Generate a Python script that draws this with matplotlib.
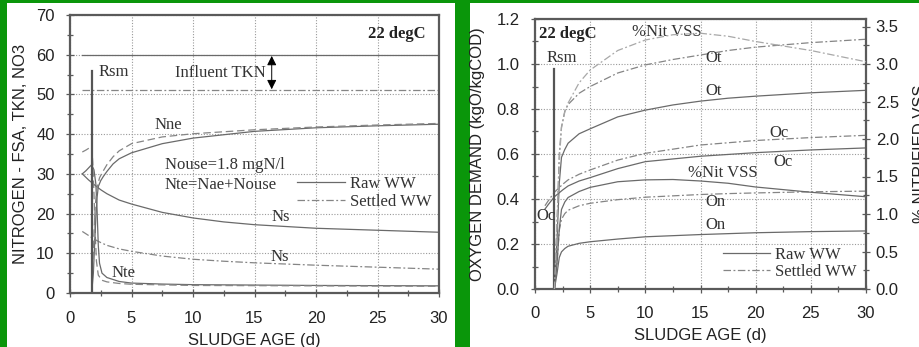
import matplotlib
matplotlib.use("Agg")
import matplotlib.pyplot as plt
from matplotlib.lines import Line2D
from matplotlib.patches import Rectangle
from matplotlib.ticker import MultipleLocator

# ---- left panel: nitrogen vs sludge age (22 degC) ----
rsm = 1.76
rsm_top_n = 56.0
tkn_x = [1.0, 30.0]
tkn_raw = [60.0, 60.0]
tkn_settled = [51.0, 51.0]

ns_x = [1.0, 1.5, 2.0, 2.5, 3.0, 4.0, 5.0, 7.5, 10, 12.5, 15, 20, 25, 30]
ns_raw = [30.0, 28.5, 27.2, 26.0, 25.0, 23.4, 22.4, 20.3, 18.9, 17.9, 17.2, 16.3, 15.8, 15.3]
ns_settled = [15.5, 14.5, 13.5, 12.7, 12.0, 11.1, 10.5, 9.3, 8.5, 8.0, 7.6, 7.0, 6.5, 6.0]

nte_raw_x = [1.0, 1.3, 1.76, 1.95, 2.1, 2.2, 2.3, 2.4, 2.6, 3.0, 4.0, 5.0, 7.5, 10, 15, 20, 25, 30]
nte_raw = [30.0, 30.8, 32.3, 31.0, 27.5, 21.0, 12.0, 7.5, 5.0, 3.9, 2.9, 2.5, 2.25, 2.1, 2.0, 1.9, 1.85, 1.8]
nte_set_x = [1.0, 1.3, 1.76, 1.85, 1.95, 2.05, 2.15, 2.3, 2.6, 3.0, 4.0, 5.0, 10, 30]
nte_settled = [35.5, 36.0, 36.9, 33.0, 25.0, 15.0, 8.0, 4.5, 3.2, 2.8, 2.4, 2.2, 1.9, 1.7]

nne_raw_x = [1.76, 1.9, 2.0, 2.1, 2.2, 2.3, 2.5, 2.7, 3.0, 3.5, 4.0, 5.0, 7.5, 10, 15, 20, 25, 30]
nne_raw = [0.0, 5.0, 12.0, 19.0, 24.0, 26.8, 28.3, 29.3, 30.6, 32.5, 33.8, 35.3, 37.6, 39.0, 40.7, 41.6, 42.1, 42.5]
nne_set_x = [1.76, 1.85, 1.95, 2.05, 2.2, 2.4, 2.6, 3.0, 3.5, 4.0, 5.0, 7.5, 10, 15, 20, 25, 30]
nne_settled = [0.0, 6.0, 15.0, 22.0, 26.5, 29.0, 30.2, 32.3, 34.3, 35.8, 37.6, 39.3, 40.1, 41.1, 41.8, 42.3, 42.7]

# ---- right panel: oxygen demand and % nitrified VSS ----
rsm_top_o = 0.98
o_x = [1.76, 2.0, 2.2, 2.4, 2.7, 3.0, 4.0, 5.0, 7.5, 10, 12.5, 15, 17.5, 20, 25, 30]
ot_raw = [0.0, 0.22, 0.47, 0.585, 0.62, 0.648, 0.69, 0.712, 0.765, 0.795, 0.818, 0.835, 0.848, 0.857, 0.872, 0.883]
ot_settled = [0.0, 0.30, 0.60, 0.72, 0.79, 0.82, 0.87, 0.90, 0.96, 0.996, 1.02, 1.04, 1.06, 1.075, 1.095, 1.11]
on_raw = [0.0, 0.07, 0.14, 0.165, 0.18, 0.19, 0.203, 0.21, 0.222, 0.232, 0.237, 0.242, 0.246, 0.25, 0.255, 0.258]
on_settled = [0.0, 0.12, 0.26, 0.31, 0.335, 0.35, 0.37, 0.381, 0.397, 0.408, 0.414, 0.42, 0.424, 0.427, 0.432, 0.435]
nit_raw = [0.0, 0.35, 0.8, 1.06, 1.16, 1.22, 1.30, 1.355, 1.43, 1.455, 1.46, 1.44, 1.41, 1.36, 1.29, 1.23]
nit_settled = [0.0, 0.9, 1.7, 2.15, 2.36, 2.48, 2.75, 2.92, 3.18, 3.32, 3.39, 3.41, 3.37, 3.30, 3.18, 3.03]

oc_x = [0.9, 1.2, 1.76, 2.5, 3.0, 4.0, 5.0, 7.5, 10, 15, 20, 25, 30]
oc_raw = [0.355, 0.375, 0.41, 0.44, 0.458, 0.48, 0.495, 0.535, 0.566, 0.59, 0.606, 0.618, 0.627]
oc_settled = [0.37, 0.392, 0.43, 0.465, 0.485, 0.51, 0.529, 0.573, 0.603, 0.64, 0.66, 0.673, 0.683]

SANS = ["Liberation Sans", "DejaVu Sans"]
SERIF = ["Liberation Serif", "DejaVu Serif"]
plt.rcParams["font.family"] = SANS

GREEN = "#0a960a"
SOLID = "#6a6a6a"
DASHC = "#858585"
LIGHT = "#a8a8a8"
SPINE = "#5a5a5a"
DD = (0, (6, 2, 1.5, 2))
DASH = (0, (6, 3))

fig = plt.figure(figsize=(9.19, 3.47), dpi=100)
fig.patch.set_facecolor(GREEN)
fig.patches.append(Rectangle((7 / 919, 0), 448 / 919, 344 / 347, transform=fig.transFigure,
                             facecolor="white", edgecolor="none", zorder=-10))
fig.patches.append(Rectangle((470 / 919, 0), 449 / 919, 344 / 347, transform=fig.transFigure,
                             facecolor="white", edgecolor="none", zorder=-10))


def style_axes(ax, xpad, ypad):
    for s in ax.spines.values():
        s.set_color(SPINE)
        s.set_linewidth(1.6)
    ax.tick_params(which="both", direction="inout", colors=SPINE, labelcolor="#222222",
                   labelsize=12)
    ax.tick_params(which="major", length=6, width=0.9)
    ax.tick_params(which="minor", length=5, width=0.9)
    ax.tick_params(axis="x", pad=xpad)
    ax.tick_params(axis="y", pad=ypad)
    ax.grid(True, which="major", color="#9a9a9a", lw=0.8, ls=(0, (1, 1.5)))
    ax.set_axisbelow(True)


def txt(ax, x, y, s, **kw):
    ax.text(x, y, s, family=SERIF, fontsize=12, color="#333333", va="center", **kw)


# ---------------- left panel ----------------
ax = fig.add_axes([70 / 919, 54 / 347, 369 / 919, 278 / 347])
style_axes(ax, 10, 8)
ax.set_xlim(0, 30); ax.set_ylim(0, 70)
ax.xaxis.set_major_locator(MultipleLocator(5)); ax.xaxis.set_minor_locator(MultipleLocator(2.5))
ax.yaxis.set_major_locator(MultipleLocator(10)); ax.yaxis.set_minor_locator(MultipleLocator(5))

ax.plot(tkn_x, tkn_raw, color=SOLID, lw=0.9)
ax.plot(tkn_x, tkn_settled, color=DASHC, lw=0.9, ls=DD)
ax.plot(ns_x, ns_raw, color=SOLID, lw=0.9)
ax.plot(ns_x, ns_settled, color=DASHC, lw=0.9, ls=DD)
ax.plot(nte_raw_x, nte_raw, color=SOLID, lw=0.9)
ax.plot(nte_set_x, nte_settled, color=DASHC, lw=0.9, ls=DASH)
ax.plot(nne_raw_x, nne_raw, color=SOLID, lw=0.9)
ax.plot(nne_set_x, nne_settled, color=DASHC, lw=0.9, ls=DASH)
ax.plot([rsm, rsm], [0, rsm_top_n], color="#555555", lw=1.6)

ax.annotate("", xy=(16.4, 50.6), xytext=(16.4, 60.4),
            arrowprops=dict(arrowstyle="<|-|>", color="black", lw=0.7, mutation_scale=14))
txt(ax, 15.9, 55.3, "Influent TKN", ha="right")
ax.text(28.9, 65.2, "22 degC", family=SERIF, fontsize=12, fontweight="bold", ha="right",
        va="center", color="#222222")
txt(ax, 2.3, 55.6, "Rsm")
txt(ax, 6.9, 42.3, "Nne")
txt(ax, 7.7, 32.2, "Nouse=1.8 mgN/l")
txt(ax, 7.7, 27.2, "Nte=Nae+Nouse")
txt(ax, 16.4, 19.2, "Ns")
txt(ax, 16.3, 9.1, "Ns")
txt(ax, 3.4, 5.1, "Nte")
ax.legend(handles=[Line2D([], [], color=SOLID, lw=0.9), Line2D([], [], color=DASHC, lw=0.9, ls=DD)],
          labels=["Raw WW", "Settled WW"], loc="upper left", bbox_to_anchor=(0.614, 0.42),
          frameon=False, prop=dict(family=SERIF, size=12), handlelength=2.9,
          handletextpad=0.3, labelspacing=0.1, borderpad=0, borderaxespad=0,
          labelcolor="#333333")

ax.set_xlabel("SLUDGE AGE (d)", fontsize=12, color="#222222")
ax.set_ylabel("NITROGEN - FSA, TKN, NO3", fontsize=12, color="#222222")
ax.xaxis.set_label_coords(0.5, -0.144)
ax.yaxis.set_label_coords(-0.115, 0.5)

# ---------------- right panel ----------------
ax = fig.add_axes([535 / 919, 58 / 347, 331 / 919, 270 / 347])
style_axes(ax, 9, 8)
ax.set_xlim(0, 30); ax.set_ylim(0, 1.2)
ax.xaxis.set_major_locator(MultipleLocator(5)); ax.xaxis.set_minor_locator(MultipleLocator(2.5))
ax.yaxis.set_major_locator(MultipleLocator(0.2)); ax.yaxis.set_minor_locator(MultipleLocator(0.1))
ax.yaxis.set_major_formatter(lambda v, p: f"{v:.1f}")

ax2 = ax.twinx()
ax2.set_ylim(0, 3.6)
ax2.yaxis.set_major_locator(MultipleLocator(0.5)); ax2.yaxis.set_minor_locator(MultipleLocator(0.25))
ax2.yaxis.set_major_formatter(lambda v, p: f"{v:.1f}")
for s in ax2.spines.values():
    s.set_visible(False)
ax2.tick_params(which="both", direction="inout", colors=SPINE, labelcolor="#222222", labelsize=12, pad=4)
ax2.tick_params(which="major", length=6, width=0.9)
ax2.tick_params(which="minor", length=5, width=0.9)

ax.plot(o_x, ot_raw, color=SOLID, lw=0.9)
ax.plot(o_x, ot_settled, color=DASHC, lw=0.9, ls=DD)
ax.plot(o_x, on_raw, color=SOLID, lw=0.9)
ax.plot(o_x, on_settled, color=DASHC, lw=0.9, ls=DD)
ax.plot(oc_x, oc_raw, color=SOLID, lw=0.9)
ax.plot(oc_x, oc_settled, color=DASHC, lw=0.9, ls=DD)
ax2.plot(o_x, nit_raw, color=SOLID, lw=0.9)
ax2.plot(o_x, nit_settled, color=LIGHT, lw=0.9, ls=DD)
ax.plot([rsm, rsm], [0, rsm_top_o], color="#555555", lw=1.6)

ax.text(0.35, 1.135, "22 degC", family=SERIF, fontsize=12, fontweight="bold", va="center",
        color="#222222")
txt(ax, 8.8, 1.143, "%Nit VSS")
txt(ax, 1.05, 1.025, "Rsm")
txt(ax, 15.4, 1.025, "Ot")
txt(ax, 15.4, 0.88, "Ot")
txt(ax, 21.2, 0.695, "Oc")
txt(ax, 21.6, 0.566, "Oc")
txt(ax, 13.9, 0.514, "%Nit VSS")
txt(ax, 15.4, 0.388, "On")
txt(ax, 15.4, 0.284, "On")
txt(ax, 0.1, 0.324, "Oc")
ax.legend(handles=[Line2D([], [], color=SOLID, lw=0.9), Line2D([], [], color=DASHC, lw=0.9, ls=DD)],
          labels=["Raw WW", "Settled WW"], loc="upper left", bbox_to_anchor=(0.568, 0.157),
          frameon=False, prop=dict(family=SERIF, size=12), handlelength=2.8,
          handletextpad=0.3, labelspacing=0.1, borderpad=0, borderaxespad=0,
          labelcolor="#333333")

ax.set_xlabel("SLUDGE AGE (d)", fontsize=12, color="#222222")
ax.set_ylabel("OXYGEN DEMAND (kgO/kgCOD)", fontsize=12, color="#222222")
ax.xaxis.set_label_coords(0.5, -0.146)
ax.yaxis.set_label_coords(-0.151, 0.5)
ax2.set_ylabel("% NITRIFIED VSS", fontsize=12, color="#222222")
ax2.yaxis.set_label_coords(1.142, 0.5)

fig.savefig("out.png", dpi=100, facecolor=fig.get_facecolor())
